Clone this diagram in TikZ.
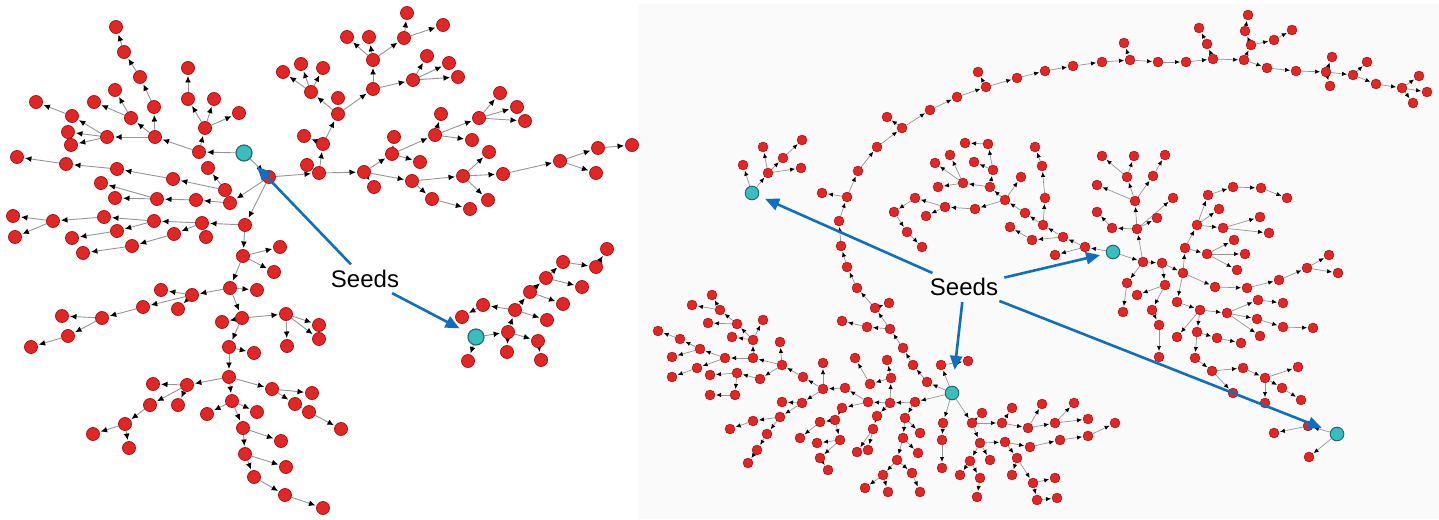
\documentclass[tikz,border=0pt]{standalone}
\usepackage{fontspec}
\setmainfont{Liberation Sans}
\usetikzlibrary{arrows.meta}
\definecolor{nred}{RGB}{226,38,38}
\definecolor{nredge}{RGB}{165,25,25}
\definecolor{sfill}{RGB}{56,190,190}
\definecolor{sedge}{RGB}{40,105,115}
\definecolor{egray}{RGB}{150,150,150}
\definecolor{sblue}{RGB}{16,110,190}
\definecolor{panelbg}{RGB}{250,250,250}
\pgfdeclarelayer{back}
\pgfdeclarelayer{edges}
\pgfsetlayers{back,edges,main}
\tikzset{
  ln/.style={circle,fill=nred,draw=nredge,line width=0.4pt,inner sep=0pt,minimum size=6.5pt},
  lseed/.style={circle,fill=sfill,draw=sedge,line width=0.6pt,inner sep=0pt,minimum size=8pt},
  rn/.style={circle,fill=nred,draw=nredge,line width=0.3pt,inner sep=0pt,minimum size=4.9pt},
  rseed/.style={circle,fill=sfill,draw=sedge,line width=0.5pt,inner sep=0pt,minimum size=6.8pt},
  le/.style={draw=egray,line width=0.45pt,-{Latex[length=3.2pt,width=2.9pt,color=black]},shorten >=0.6pt},
  re/.style={draw=egray,line width=0.35pt,-{Latex[length=2.5pt,width=2.2pt,color=black]},shorten >=0.4pt},
  seedlab/.style={font=\fontsize{12pt}{14pt}\selectfont,inner sep=2pt},
  seedarrow/.style={draw=sblue,line width=1.3pt,-{Triangle[length=7pt,width=6pt]}}
}
\begin{document}
\begin{tikzpicture}[x=0.5pt,y=-0.5pt]
\useasboundingbox (0,0) rectangle (1439,519);
\begin{pgfonlayer}{back}
\fill[white] (0,0) rectangle (1439,519);
\fill[panelbg] (638,4) rectangle (1439,519);
\end{pgfonlayer}

% ---------------- LEFT PANEL ----------------
\node[lseed] (LS1) at (244,153) {};
\node[lseed] (LS2) at (476,337) {};
\foreach \x/\y in {199/152, 205/128, 188/99, 188/68, 214/99, 239/113, 155/137, 154/107, 140/77, 124/52, 116/27, 131/118, 115/90, 94/102, 107/137, 72/116, 36/102, 68/132, 71/145, 269/177, 225/190, 208/168, 173/179, 117/169, 66/164, 17/157, 230/203, 196/200, 157/199, 115/198, 101/183, 245/225, 202/223, 206/237, 154/221, 104/217, 53/221, 13/216, 15/237, 117/231, 72/238, 174/234, 132/246, 83/253, 243/256, 280/247,
319/173, 307/165, 323/144, 304/136, 338/114, 338/98, 311/92, 283/72, 301/64, 323/68, 373/89, 373/60, 347/37, 369/37, 404/38, 407/13, 443/25, 413/80, 427/56, 449/63, 458/77, 364/172, 374/187, 392/154, 394/137, 420/162, 435/135, 441/114, 472/140, 479/118, 500/93, 517/107, 525/121, 412/181, 432/199, 470/209, 463/176, 489/152, 488/200, 503/174, 560/161, 598/148, 596/173, 632/145,
274/272, 230/288, 257/290, 192/295, 161/290, 178/309, 143/307, 102/318, 62/316, 68/336, 31/347, 242/318, 222/322, 286/314, 319/325, 319/339, 287/346, 229/347, 254/353, 229/377, 187/385, 153/384, 150/405, 178/405, 125/424, 93/434, 129/448, 232/401, 207/414, 257/412, 272/389, 312/393, 295/404, 309/412, 341/429, 243/428, 281/441, 245/454, 286/467, 254/477, 285/495, 323/508,
468/361, 508/332, 507/352, 538/341, 541/360, 515/310, 483/305, 462/317, 547/320, 530/292, 563/304, 546/278, 582/287, 563/262, 596/267, 607/249}
  \node[ln] (L\x x\y) at (\x,\y) {};

\begin{pgfonlayer}{edges}
\foreach \a/\b in {S1/199x152, 199x152/205x128, 205x128/188x99, 188x99/188x68, 205x128/214x99, 205x128/239x113, 199x152/155x137, 155x137/154x107, 154x107/140x77, 140x77/124x52, 124x52/116x27, 155x137/131x118, 131x118/115x90, 131x118/94x102, 155x137/107x137, 107x137/72x116, 72x116/36x102, 107x137/68x132, 107x137/71x145,
S1/269x177, 269x177/230x203, 230x203/225x190, 225x190/208x168, 225x190/173x179, 173x179/117x169, 117x169/66x164, 66x164/17x157, 230x203/196x200, 196x200/157x199, 157x199/115x198, 157x199/101x183,
269x177/245x225, 245x225/202x223, 202x223/206x237, 202x223/154x221, 154x221/104x217, 104x217/53x221, 53x221/13x216, 53x221/15x237, 154x221/117x231, 117x231/72x238, 202x223/174x234, 174x234/132x246, 132x246/83x253,
245x225/243x256, 243x256/280x247, 243x256/274x272, 243x256/230x288, 230x288/257x290, 230x288/192x295, 192x295/161x290, 192x295/178x309, 192x295/143x307, 143x307/102x318, 102x318/62x316, 102x318/68x336, 68x336/31x347,
230x288/242x318, 242x318/222x322, 242x318/286x314, 286x314/319x325, 286x314/319x339, 286x314/287x346, 242x318/229x347, 229x347/254x353, 229x347/229x377, 229x377/187x385, 187x385/153x384, 187x385/178x405, 187x385/150x405, 150x405/125x424, 125x424/93x434, 125x424/129x448,
229x377/232x401, 232x401/207x414, 232x401/257x412, 229x377/272x389, 272x389/312x393, 272x389/295x404, 295x404/309x412, 309x412/341x429, 232x401/243x428, 243x428/281x441, 243x428/245x454, 245x454/286x467, 245x454/254x477, 254x477/285x495, 285x495/323x508,
269x177/319x173, 319x173/307x165, 319x173/323x144, 323x144/304x136, 323x144/338x114, 338x114/338x98, 338x114/311x92, 311x92/283x72, 311x92/301x64, 311x92/323x68, 338x114/373x89, 373x89/373x60, 373x60/347x37, 373x60/369x37, 373x60/404x38, 404x38/407x13, 404x38/443x25, 373x89/413x80, 413x80/427x56, 413x80/449x63, 413x80/458x77,
319x173/364x172, 364x172/374x187, 364x172/392x154, 392x154/394x137, 392x154/420x162, 392x154/435x135, 435x135/441x114, 435x135/472x140, 435x135/479x118, 479x118/500x93, 479x118/517x107, 479x118/525x121, 364x172/412x181, 412x181/432x199, 432x199/470x209, 412x181/463x176, 463x176/489x152, 463x176/488x200, 463x176/503x174, 503x174/560x161, 560x161/598x148, 560x161/596x173, 598x148/632x145,
S2/508x332, S2/468x361, 508x332/507x352, 508x332/538x341, 538x341/541x360, 508x332/515x310, 515x310/483x305, 483x305/462x317, 515x310/547x320, 515x310/530x292, 530x292/563x304, 530x292/546x278, 546x278/582x287, 546x278/563x262, 563x262/596x267, 596x267/607x249}
  \draw[le] (L\a) -- (L\b);
\end{pgfonlayer}

\node[seedlab] (lab1) at (365,279) {Seeds};
\draw[seedarrow,shorten >=5pt,shorten <=1pt] (lab1) -- (LS1);
\draw[seedarrow,shorten >=5pt,shorten <=1pt] (lab1) -- (LS2);

% ---------------- RIGHT PANEL ----------------
\node[rseed] (RS1) at (752,193) {};
\node[rseed] (RS2) at (952,393) {};
\node[rseed] (RS3) at (1113,252) {};
\node[rseed] (RS4) at (1337,434) {};
\foreach \x/\y in {768/173, 763/147, 783/158, 802/140, 801/168, 743/165,
927/382, 913/365, 903/348, 890/329, 875/308, 857/288, 847/267, 841/246, 839/221, 847/197, 858/171, 877/147, 902/128, 930/110, 957/97, 986/87, 1017/78, 1045/71, 1073/66, 1102/62, 1130/60, 1158/62, 1186/62, 1213/59, 1244/60, 1267/68, 1296/71, 1326/72, 1353/75, 1376/84, 1402/88, 1419/76, 1427/92, 1413/103, 978/72, 887/117, 1124/43, 1207/44, 1199/28, 1251/45, 1245/31, 1248/15, 1274/40, 1292/30, 1332/57, 1330/86, 1367/62, 822/193, 889/303, 867/327, 842/321, 941/365, 968/361,
965/143, 988/144, 950/155, 935/163, 974/162, 993/170, 963/183, 990/187, 938/187, 1021/177, 1005/200, 975/209, 945/207, 915/198, 926/216, 894/212, 907/232, 922/247, 1025/213, 1010/227, 1032/240, 1043/225, 1045/198, 1042/166, 1035/147, 1063/237, 1085/247, 1055/255,
1102/156, 1134/156, 1165/155, 1127/177, 1153/176, 1097/185, 1135/201, 1173/198, 1097/212, 1112/228, 1137/229, 1157/218, 1143/262, 1162/263, 1127/283, 1137/295, 1123/312, 1165/285, 1152/310, 1159/325, 1159/357, 1183/273, 1177/302, 1200/310, 1177/337, 1197/332, 1195/358, 1212/371, 1233/393, 1243/368, 1265/378, 1298/367, 1282/388, 1265/403, 1301/400, 1217/338, 1241/343, 1185/248, 1197/225, 1208/195, 1219/209, 1233/187, 1261/188, 1287/198, 1223/228, 1260/217, 1269/233, 1207/254, 1234/240, 1245/254, 1237/270, 1215/287, 1247/288, 1279/280, 1307/268, 1329/255, 1338/273, 1227/313, 1258/300, 1283/303, 1257/319, 1283/327, 1313/328, 1260/336, 1308/426, 1274/433, 1309/457,
915/402, 890/403, 868/402, 891/378, 887/360, 855/358, 870/384, 845/388, 823/389, 823/363, 803/377, 802/403, 782/402, 782/365, 780/342, 753/358, 753/340, 763/320, 725/358, 737/373, 735/395, 710/395, 760/379, 710/375, 697/368, 700/349, 672/357, 672/377, 680/339, 658/331, 708/323, 732/337, 737/324, 720/310, 712/295, 692/305, 780/417, 753/421, 730/429, 767/434, 757/450, 748/463, 842/408, 835/420, 820/422, 800/438, 817/443, 840/440, 820/458, 828/470, 857/452, 868/450, 873/429, 877/416, 905/418, 920/433, 903/438, 918/453, 897/460, 912/473, 883/475, 865/488, 888/492, 920/492, 942/468, 942/440, 943/423, 972/423, 982/413, 980/443, 970/461, 960/475, 980/478, 977/497, 990/460, 1002/423, 1012/408, 1005/442, 1017/458, 1012/475, 1028/428, 1030/447, 1033/483, 1037/500, 1042/404, 1074/403, 1055/423, 1088/419, 1115/423, 1060/440, 1088/436, 1055/478, 1057/498}
  \node[rn] (R\x x\y) at (\x,\y) {};

\begin{pgfonlayer}{edges}
\foreach \a/\b in {S1/768x173, 768x173/763x147, 768x173/783x158, 783x158/802x140, 768x173/801x168, S1/743x165,
S2/927x382, 927x382/913x365, 913x365/903x348, 903x348/890x329, 890x329/875x308, 875x308/857x288, 857x288/847x267, 847x267/841x246, 841x246/839x221, 839x221/847x197, 847x197/858x171, 858x171/877x147, 877x147/902x128, 902x128/930x110, 930x110/957x97, 957x97/986x87, 986x87/1017x78, 1017x78/1045x71, 1045x71/1073x66, 1073x66/1102x62, 1102x62/1130x60, 1130x60/1158x62, 1158x62/1186x62, 1186x62/1213x59, 1213x59/1244x60, 1244x60/1267x68, 1267x68/1296x71, 1296x71/1326x72, 1326x72/1353x75, 1353x75/1376x84, 1376x84/1402x88, 1402x88/1419x76, 1402x88/1427x92, 1402x88/1413x103,
986x87/978x72, 902x128/887x117, 1130x60/1124x43, 1213x59/1207x44, 1207x44/1199x28, 1244x60/1251x45, 1251x45/1245x31, 1245x31/1248x15, 1251x45/1274x40, 1274x40/1292x30, 1326x72/1332x57, 1326x72/1330x86, 1353x75/1367x62, 847x197/822x193, 875x308/889x303, 890x329/867x327, 867x327/842x321, S2/941x365, 941x365/968x361,
S3/1085x247, 1085x247/1055x255, 1085x247/1063x237, 1063x237/1043x225, 1063x237/1032x240, 1043x225/1045x198, 1045x198/1042x166, 1042x166/1035x147, 1043x225/1025x213, 1032x240/1010x227, 1025x213/1005x200, 1005x200/975x209, 975x209/945x207, 945x207/926x216, 945x207/915x198, 915x198/894x212, 894x212/907x232, 907x232/922x247, 1005x200/990x187, 990x187/963x183, 963x183/938x187, 963x183/935x163, 963x183/950x155, 990x187/993x170, 993x170/974x162, 993x170/988x144, 988x144/965x143, 1005x200/1021x177,
S3/1143x262, 1143x262/1162x263, 1143x262/1137x229, 1137x229/1112x228, 1112x228/1097x212, 1137x229/1135x201, 1135x201/1127x177, 1127x177/1102x156, 1127x177/1134x156, 1135x201/1097x185, 1135x201/1153x176, 1153x176/1165x155, 1137x229/1173x198, 1137x229/1157x218, 1143x262/1127x283, 1127x283/1123x312, 1162x263/1165x285, 1165x285/1137x295, 1165x285/1152x310, 1152x310/1159x325, 1159x325/1159x357,
1162x263/1183x273, 1183x273/1215x287, 1215x287/1247x288, 1247x288/1279x280, 1279x280/1307x268, 1307x268/1329x255, 1307x268/1338x273, 1183x273/1177x302, 1177x302/1200x310, 1200x310/1227x313, 1227x313/1258x300, 1258x300/1283x303, 1227x313/1257x319, 1257x319/1283x327, 1283x327/1313x328, 1227x313/1260x336, 1200x310/1177x337, 1200x310/1197x332, 1197x332/1195x358, 1195x358/1212x371, 1212x371/1233x393, 1212x371/1243x368, 1243x368/1265x378, 1265x378/1298x367, 1265x378/1282x388, 1265x378/1265x403, 1282x388/1301x400, 1197x332/1217x338, 1217x338/1241x343,
1183x273/1185x248, 1185x248/1197x225, 1197x225/1208x195, 1208x195/1233x187, 1233x187/1261x188, 1261x188/1287x198, 1197x225/1219x209, 1197x225/1223x228, 1223x228/1260x217, 1223x228/1269x233, 1185x248/1207x254, 1207x254/1234x240, 1207x254/1245x254, 1207x254/1237x270,
S4/1308x426, 1308x426/1274x433, S4/1309x457,
S2/915x402, 915x402/890x403, 890x403/868x402, 890x403/891x378, 891x378/887x360, 891x378/870x384, 870x384/855x358, 868x402/845x388, 845x388/823x389, 823x389/823x363, 823x389/803x377, 823x389/802x403, 802x403/782x402, 803x377/782x365, 782x365/780x342, 782x365/760x379, 782x365/753x358, 753x358/753x340, 753x340/763x320, 753x340/737x324, 753x340/732x337, 737x324/720x310, 720x310/712x295, 720x310/692x305, 737x324/708x323, 753x358/725x358, 725x358/700x349, 700x349/680x339, 680x339/658x331, 700x349/672x357, 725x358/697x368, 697x368/672x377, 760x379/737x373, 737x373/710x375, 737x373/735x395, 735x395/710x395,
890x403/877x416, 877x416/873x429, 873x429/868x450, 873x429/857x452, 868x402/842x408, 842x408/835x420, 835x420/820x422, 820x422/800x438, 835x420/840x440, 840x440/817x443, 840x440/820x458, 820x458/828x470, 802x403/780x417, 780x417/753x421, 753x421/730x429, 780x417/767x434, 767x434/757x450, 757x450/748x463,
915x402/905x418, 905x418/920x433, 905x418/903x438, 903x438/918x453, 903x438/897x460, 897x460/883x475, 883x475/865x488, 883x475/888x492, 897x460/912x473, 912x473/920x492,
S2/943x423, 943x423/942x440, 942x440/942x468, S2/972x423, 972x423/982x413, 972x423/1002x423, 1002x423/1012x408, 1002x423/1028x428, 1028x428/1042x404, 1028x428/1055x423, 1055x423/1074x403, 1055x423/1088x419, 972x423/980x443, 980x443/970x461, 970x461/960x475, 970x461/980x478, 980x478/977x497, 980x443/990x460, 980x443/1005x442, 1005x442/1017x458, 1017x458/1012x475, 1005x442/1030x447, 1030x447/1060x440, 1060x440/1088x436, 1088x436/1115x423, 1017x458/1033x483, 1033x483/1037x500, 1033x483/1055x478, 1037x500/1057x498}
  \draw[re] (R\a) -- (R\b);
\end{pgfonlayer}

\node[seedlab] (lab2) at (964,287) {Seeds};
\draw[seedarrow,shorten >=3.5pt,shorten <=1pt] (lab2) -- (RS1);
\draw[seedarrow,shorten >=3pt,shorten <=1pt] (lab2) -- (RS3);
\draw[seedarrow,shorten >=8pt,shorten <=1pt] (lab2) -- (RS2);
\draw[seedarrow,shorten >=4.5pt,shorten <=1pt] (lab2) -- (RS4);
\end{tikzpicture}
\end{document}
